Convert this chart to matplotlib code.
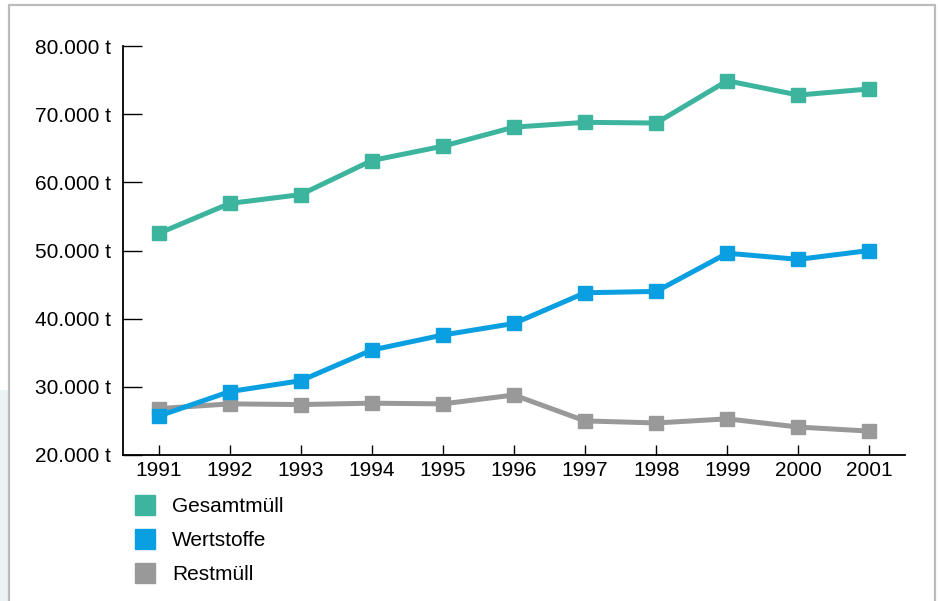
import matplotlib.pyplot as plt
from matplotlib.lines import Line2D
from matplotlib.patches import Rectangle

plt.rcParams['font.family'] = ['Liberation Sans', 'DejaVu Sans']

years = [1991, 1992, 1993, 1994, 1995, 1996, 1997, 1998, 1999, 2000, 2001]
gesamt = [52500, 56900, 58200, 63200, 65300, 68100, 68800, 68700, 74900, 72800, 73700]
wertstoffe = [25700, 29300, 30900, 35400, 37600, 39300, 43800, 44000, 49600, 48700, 50000]
restmuell = [26800, 27500, 27400, 27600, 27500, 28800, 25000, 24700, 25300, 24100, 23500]

labels = ['Gesamtmüll', 'Wertstoffe', 'Restmüll']
colors = ['#3db59e', '#0a9fe0', '#999999']
yticks = [20000, 30000, 40000, 50000, 60000, 70000, 80000]
ytick_labels = ['20.000 t', '30.000 t', '40.000 t', '50.000 t', '60.000 t', '70.000 t', '80.000 t']

fig = plt.figure(figsize=(9.38, 6.01), dpi=100)

# light band and grey frame of the page
fig.patches.append(Rectangle((0, 0), 9/938, 1 - 390/601, transform=fig.transFigure,
                             facecolor='#eaf4f4', edgecolor='none', zorder=0))
fig.add_artist(Line2D([9/938, 9/938, 935/938, 935/938], [0, 1 - 5/601, 1 - 5/601, 0],
                      transform=fig.transFigure, color='#bbbbbb', linewidth=1.6))

ax = fig.add_axes([123/938, 1 - 455/601, (905 - 123)/938, (455 - 46)/601])

# Restmüll first so the others sit on top
ax.plot(years, restmuell, color=colors[2], linewidth=3.6, marker='s', markersize=9.5)
ax.plot(years, wertstoffe, color=colors[1], linewidth=3.6, marker='s', markersize=9.5)
ax.plot(years, gesamt, color=colors[0], linewidth=3.6, marker='s', markersize=9.5)

ax.set_xlim(1990.5, 2001.5)
ax.set_ylim(20000, 80000)
ax.set_xticks(years)
ax.set_xticklabels([str(y) for y in years])
ax.set_yticks(yticks)
ax.set_yticklabels(ytick_labels)

ax.spines['top'].set_visible(False)
ax.spines['right'].set_visible(False)
ax.spines['left'].set_linewidth(1.3)
ax.spines['bottom'].set_linewidth(1.3)
ax.tick_params(axis='y', direction='in', length=14, width=1, pad=9, labelsize=15)
ax.tick_params(axis='x', direction='in', length=7, width=1, pad=4, labelsize=15)

handles = [Line2D([], [], linestyle='none', marker='s', markersize=14, color=c) for c in colors]
fig.legend(handles, labels, loc='upper left', bbox_to_anchor=(126/938, 1 - 489/601),
           frameon=False, fontsize=15, handlelength=1.0, handletextpad=0.8,
           labelspacing=0.72, borderaxespad=0)

fig.savefig('out.png', dpi=100)
